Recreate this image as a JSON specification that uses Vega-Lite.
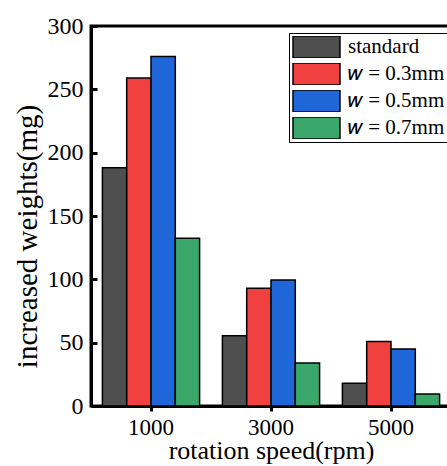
{
  "$schema": "https://vega.github.io/schema/vega-lite/v6.json",
  "autosize": {"type": "none"},
  "padding": {"left": 91, "top": 26, "right": 0, "bottom": 60},
  "width": 360,
  "height": 380,
  "background": "white",
  "data": {"values": [
    {"speed": "1000", "series": "standard", "weight": 188},
    {"speed": "1000", "series": "𝑤 = 0.3mm", "weight": 259},
    {"speed": "1000", "series": "𝑤 = 0.5mm", "weight": 276},
    {"speed": "1000", "series": "𝑤 = 0.7mm", "weight": 132.5},
    {"speed": "3000", "series": "standard", "weight": 55.5},
    {"speed": "3000", "series": "𝑤 = 0.3mm", "weight": 93},
    {"speed": "3000", "series": "𝑤 = 0.5mm", "weight": 99.5},
    {"speed": "3000", "series": "𝑤 = 0.7mm", "weight": 34},
    {"speed": "5000", "series": "standard", "weight": 18},
    {"speed": "5000", "series": "𝑤 = 0.3mm", "weight": 51},
    {"speed": "5000", "series": "𝑤 = 0.5mm", "weight": 45},
    {"speed": "5000", "series": "𝑤 = 0.7mm", "weight": 9.5}
  ]},
  "config": {
    "font": "Liberation Serif",
    "view": {"stroke": "black", "strokeWidth": 3}
  },
  "mark": {"type": "bar", "stroke": "black", "strokeWidth": 1.5},
  "encoding": {
    "x": {
      "field": "speed", "type": "nominal",
      "scale": {"paddingInner": 0, "paddingOuter": 0},
      "axis": {
        "title": "rotation speed(rpm)", "labelAngle": 0,
        "labelFont": "Liberation Serif", "labelFontSize": 23, "labelColor": "black",
        "titleFont": "Liberation Serif", "titleFontSize": 26, "titleFontWeight": "normal", "titleColor": "black",
        "domainColor": "black", "domainWidth": 3,
        "tickColor": "black", "tickWidth": 3, "tickSize": 5,
        "labelPadding": 5, "titlePadding": -2
      }
    },
    "xOffset": {
      "field": "series", "type": "nominal",
      "sort": ["standard", "𝑤 = 0.3mm", "𝑤 = 0.5mm", "𝑤 = 0.7mm"],
      "scale": {"paddingInner": 0, "paddingOuter": 0.47}
    },
    "y": {
      "field": "weight", "type": "quantitative",
      "scale": {"domain": [0, 300], "nice": false},
      "axis": {
        "title": "increased weights(mg)", "values": [0, 50, 100, 150, 200, 250, 300],
        "grid": false,
        "labelFont": "Liberation Serif", "labelFontSize": 24, "labelColor": "black",
        "titleFont": "Liberation Serif", "titleFontSize": 29, "titleFontWeight": "normal", "titleColor": "black",
        "titleY": 210,
        "domainColor": "black", "domainWidth": 3,
        "tickColor": "black", "tickWidth": 3, "tickSize": -6,
        "labelPadding": 14, "titlePadding": 5
      }
    },
    "fill": {
      "field": "series", "type": "nominal",
      "sort": ["standard", "𝑤 = 0.3mm", "𝑤 = 0.5mm", "𝑤 = 0.7mm"],
      "scale": {
        "domain": ["standard", "𝑤 = 0.3mm", "𝑤 = 0.5mm", "𝑤 = 0.7mm"],
        "range": ["#4f4f4f", "#f04040", "#1f66d8", "#3aa86a"]
      },
      "legend": {
        "title": null,
        "orient": "none", "legendX": 198, "legendY": 7,
        "strokeColor": "black", "padding": 3,
        "symbolType": "M-1,-1H3.27V1H-1Z",
        "symbolSize": 484, "symbolStrokeColor": "black", "symbolStrokeWidth": 1.5,
        "symbolOpacity": 1, "clipHeight": 22,
        "labelFont": "Liberation Serif", "labelFontSize": 21, "labelColor": "black",
        "labelOffset": 32, "rowPadding": 5, "labelLimit": 300
      }
    }
  }
}
